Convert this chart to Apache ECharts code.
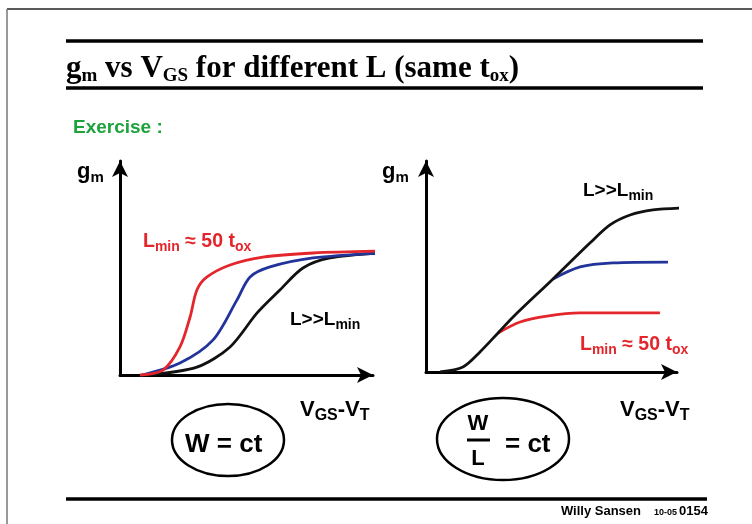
<!DOCTYPE html>
<html>
<head>
<meta charset="utf-8">
<script src="https://cdn.jsdelivr.net/npm/echarts@6/dist/echarts.min.js"></script>
<style>
  html, body { margin: 0; padding: 0; background: #fff; }
  #c { width: 752px; height: 524px; }
</style>
</head>
<body>
<div id="c"></div>
<script>
// gm versus (VGS - VT), arbitrary units.
// Left panel: W constant, short channel (red), medium (blue), long channel (black).
const wConstRed   = [[0.79,0],[1.70,0.23],[2.37,1.31],[2.77,2.71],[3.04,3.97],[3.44,4.58],[4.35,5.14],[5.65,5.51],[7.63,5.70],[10.28,5.79]];
const wConstBlue  = [[0.87,0],[2.37,0.56],[3.68,1.64],[4.62,3.50],[5.14,4.58],[5.93,5.05],[7.63,5.47],[10.28,5.70]];
const wConstBlack = [[0.99,0],[3.04,0.37],[4.35,1.31],[5.42,2.90],[6.32,3.97],[7.23,5.00],[8.30,5.47],[10.28,5.70]];

// Right panel: W/L constant.
const ratioBlack = [[0.56,0],[1.47,0.24],[2.15,0.95],[2.87,1.85],[3.47,2.61],[5.06,4.41],[6.53,6.11],[7.33,6.97],[8.13,7.44],[9.04,7.68],[10.20,7.77]];
const ratioBlue  = [[5.06,4.41],[6.14,4.98],[7.45,5.17],[9.64,5.21]];
const ratioRed   = [[2.87,1.85],[3.75,2.37],[4.82,2.65],[6.14,2.80],[9.32,2.80]];

const RED = '#e3262b', BLUE = '#22339a', BLACK = '#111111', GREEN = '#1ea33c';
const SANS = '"Liberation Sans", Arial, sans-serif';
const SERIF = '"Liberation Serif", "Times New Roman", serif';

// Lays out a run of text pieces (with optional subscripts) on a common baseline.
const mctx = document.createElement('canvas').getContext('2d');
function textRun(x, base, parts, color, family, align) {
  const items = [];
  let cx = 0;
  parts.forEach(function (p) {
    const font = 'bold ' + p[1] + 'px ' + family;
    mctx.font = font;
    mctx.textBaseline = 'middle';
    const w = mctx.measureText(p[0]).width;
    const d = mctx.measureText('H').actualBoundingBoxDescent;
    items.push({ t: p[0], font: font, x: cx, y: base + (p[2] || 0) - d });
    cx += w;
  });
  const shift = align === 'right' ? -cx : (align === 'center' ? -cx / 2 : 0);
  return items.map(function (it) {
    return {
      type: 'text', x: x + shift + it.x, y: it.y, silent: true,
      style: { text: it.t, font: it.font, fill: color, textAlign: 'left', textVerticalAlign: 'middle' }
    };
  });
}

function hline(x1, x2, y, w, c) {
  return { type: 'line', silent: true, shape: { x1: x1, y1: y, x2: x2, y2: y }, style: { stroke: c || '#000', lineWidth: w } };
}

const graphics = [].concat(
  [
    { type: 'line', silent: true, shape: { x1: 7, y1: 9, x2: 752, y2: 9 }, style: { stroke: '#222', lineWidth: 1.5 } },
    { type: 'line', silent: true, shape: { x1: 7, y1: 9, x2: 7, y2: 524 }, style: { stroke: '#777', lineWidth: 1.5 } },
    hline(66, 703, 41, 3.5),
    hline(66, 703, 88, 3.5),
    hline(66, 707, 499, 3.5)
  ],
  textRun(66, 76.5, [['g', 31], ['m', 19, 4], [' vs V', 31], ['GS', 19, 4], [' for different L (same t', 31], ['ox', 19, 4], [')', 31]], '#000', SERIF),
  textRun(73, 133, [['Exercise :', 19]], GREEN, SANS),
  // left panel labels
  textRun(77, 178, [['g', 22], ['m', 15, 4]], '#000', SANS),
  textRun(143, 247, [['L', 19.5], ['min', 14, 4], [' \u2248 50 t', 19.5], ['ox', 14, 4]], RED, SANS),
  textRun(290, 325, [['L>>L', 19], ['min', 14, 4]], '#000', SANS),
  textRun(300, 416, [['V', 22], ['GS', 16, 4], ['-V', 22], ['T', 16, 4]], '#000', SANS),
  // right panel labels
  textRun(382, 178, [['g', 22], ['m', 15, 4]], '#000', SANS),
  textRun(583, 196, [['L>>L', 19], ['min', 14, 4]], '#000', SANS),
  textRun(580, 350, [['L', 19.5], ['min', 14, 4], [' \u2248 50 t', 19.5], ['ox', 14, 4]], RED, SANS),
  textRun(620, 416, [['V', 22], ['GS', 16, 4], ['-V', 22], ['T', 16, 4]], '#000', SANS),
  // constraint ellipses
  [
    { type: 'ellipse', silent: true, shape: { cx: 228, cy: 440, rx: 56, ry: 36 }, style: { fill: 'none', stroke: '#000', lineWidth: 2.5 } },
    { type: 'ellipse', silent: true, shape: { cx: 503, cy: 439, rx: 66, ry: 41 }, style: { fill: 'none', stroke: '#000', lineWidth: 2.5 } },
    hline(467, 490, 440, 3)
  ],
  textRun(185, 452, [['W = ct', 26]], '#000', SANS),
  textRun(478, 430, [['W', 22]], '#000', SANS, 'center'),
  textRun(478, 465, [['L', 22]], '#000', SANS, 'center'),
  textRun(505, 452, [['= ct', 26]], '#000', SANS),
  // footer
  textRun(641, 515, [['Willy Sansen', 13]], '#000', SANS, 'right'),
  textRun(677, 515, [['10-05', 9]], '#000', SANS, 'right'),
  textRun(708, 515, [['0154', 13]], '#000', SANS, 'right')
);

function axisPair(grid) {
  const line = {
    show: true, onZero: false, symbol: ['none', 'arrow'], symbolSize: [12, 16],
    lineStyle: { color: '#000', width: 3 }
  };
  return {
    x: { type: 'value', gridIndex: grid, min: 0, max: 10, axisLine: line, axisTick: { show: false }, axisLabel: { show: false }, splitLine: { show: false } },
    y: { type: 'value', gridIndex: grid, min: 0, max: 10, axisLine: line, axisTick: { show: false }, axisLabel: { show: false }, splitLine: { show: false } }
  };
}
const a0 = axisPair(0), a1 = axisPair(1);

function curve(data, color, grid) {
  return {
    type: 'line', data: data, xAxisIndex: grid, yAxisIndex: grid,
    smooth: 0.3, symbol: 'none', clip: false, silent: true,
    lineStyle: { color: color, width: 2.8 }
  };
}

const chart = echarts.init(document.getElementById('c'), null, { renderer: 'canvas' });
chart.setOption({
  animation: false,
  backgroundColor: '#fff',
  grid: [
    { left: 120, top: 161, width: 253, height: 214 },
    { left: 426, top: 161, width: 251, height: 211 }
  ],
  xAxis: [a0.x, a1.x],
  yAxis: [a0.y, a1.y],
  series: [
    curve(wConstBlack, BLACK, 0),
    curve(wConstBlue, BLUE, 0),
    curve(wConstRed, RED, 0),
    curve(ratioRed, RED, 1),
    curve(ratioBlue, BLUE, 1),
    curve(ratioBlack, BLACK, 1)
  ],
  graphic: { elements: graphics }
});
</script>
</body>
</html>
